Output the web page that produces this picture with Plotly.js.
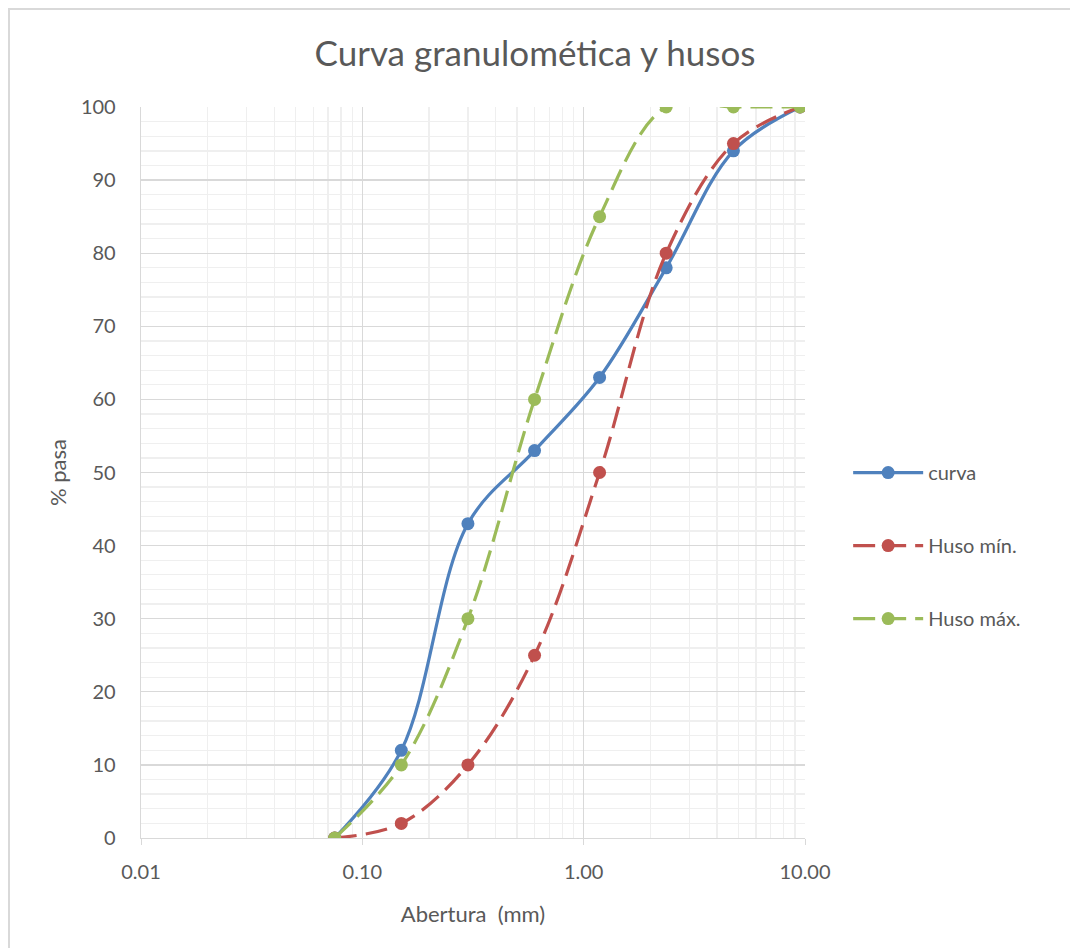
<!DOCTYPE html>
<html><head><meta charset="utf-8">
<script src="https://cdn.plot.ly/plotly-3.0.1.min.js"></script>
<style>html,body{margin:0;padding:0;background:#fff}#chart{width:1070px;height:948px}</style>
</head><body><div id="chart"></div>
<script>
const aberturas = [0.075, 0.15, 0.3, 0.6, 1.18, 2.36, 4.75, 9.5];
const curva = [0, 12, 43, 53, 63, 78, 94, 100];
const husoMin = [0, 2, 10, 25, 50, 80, 95, 100];
const husoMax = [0, 10, 30, 60, 85, 100, 100, 100];
const seriesNames = ['curva', 'Huso mín.', 'Huso máx.'];
const colors = ['#4F81BD', '#C0504D', '#9BBB59'];

const F = 'Lato, "Open Sans", sans-serif';
function tr(y, i, dash) {
  return {
    x: aberturas, y: y, name: seriesNames[i], type: 'scatter', mode: 'lines+markers',
    legendgroup: 'g' + i,
    line: {color: colors[i], width: 3.2, shape: 'spline', smoothing: 1, dash: dash},
    marker: {color: colors[i], size: 13}
  };
}
const data = [tr(curva, 0, 'solid'), tr(husoMin, 1, '22px,9px'), tr(husoMax, 2, '22px,9px')];
const layout = {
  width: 1070, height: 948,
  margin: {l: 141, r: 265, t: 107, b: 110},
  paper_bgcolor: '#fff', plot_bgcolor: '#fff',
  font: {family: F, color: '#595959', size: 20},
  title: {text: 'Curva granulomética y husos', font: {size: 35, color: '#595959', family: F}, x: 0.5, xanchor: 'center', y: 0.943, yanchor: 'middle'},
  xaxis: {
    type: 'log', range: [-2, 1], dtick: 1, tickformat: '.2f',
    showgrid: true, gridcolor: '#D9D9D9', gridwidth: 1.3,
    minor: {dtick: 'D1', showgrid: true, gridcolor: '#EFEFEF', gridwidth: 1.3, ticks: ''},
    showline: true, linecolor: '#D9D9D9', linewidth: 1.3, mirror: false,
    ticks: 'outside', ticklen: 6, tickcolor: '#D9D9D9', ticklabelstandoff: 10,
    zeroline: false, tickfont: {size: 20},
    title: {text: 'Abertura  (mm)', font: {size: 22}, standoff: 24}
  },
  yaxis: {
    range: [0, 100], dtick: 10, tickformat: 'd',
    showgrid: true, gridcolor: '#D9D9D9', gridwidth: 1.3,
    minor: {dtick: 2, showgrid: true, gridcolor: '#EFEFEF', gridwidth: 1.3, ticks: ''},
    showline: true, linecolor: '#D9D9D9', linewidth: 1.3,
    zeroline: false, ticks: '', tickfont: {size: 20}, ticklabelstandoff: 20,
    title: {text: '% pasa', font: {size: 22}, standoff: 8}
  },
  legend: {x: 1.065, xanchor: 'left', y: 0.4, yanchor: 'middle', font: {size: 20, color: '#595959'},
    traceorder: 'grouped', tracegroupgap: 44, itemwidth: 70, bgcolor: 'rgba(0,0,0,0)'},
  showlegend: true,
  shapes: [{type: 'rect', xref: 'paper', yref: 'paper', x0: -0.1988, x1: 1.42, y0: -0.17, y1: 1.134,
    line: {width: 2, color: '#D9D9D9'}, layer: 'below'}]
};
Plotly.newPlot('chart', data, layout, {displayModeBar: false, staticPlot: true});
</script>
</body></html>
